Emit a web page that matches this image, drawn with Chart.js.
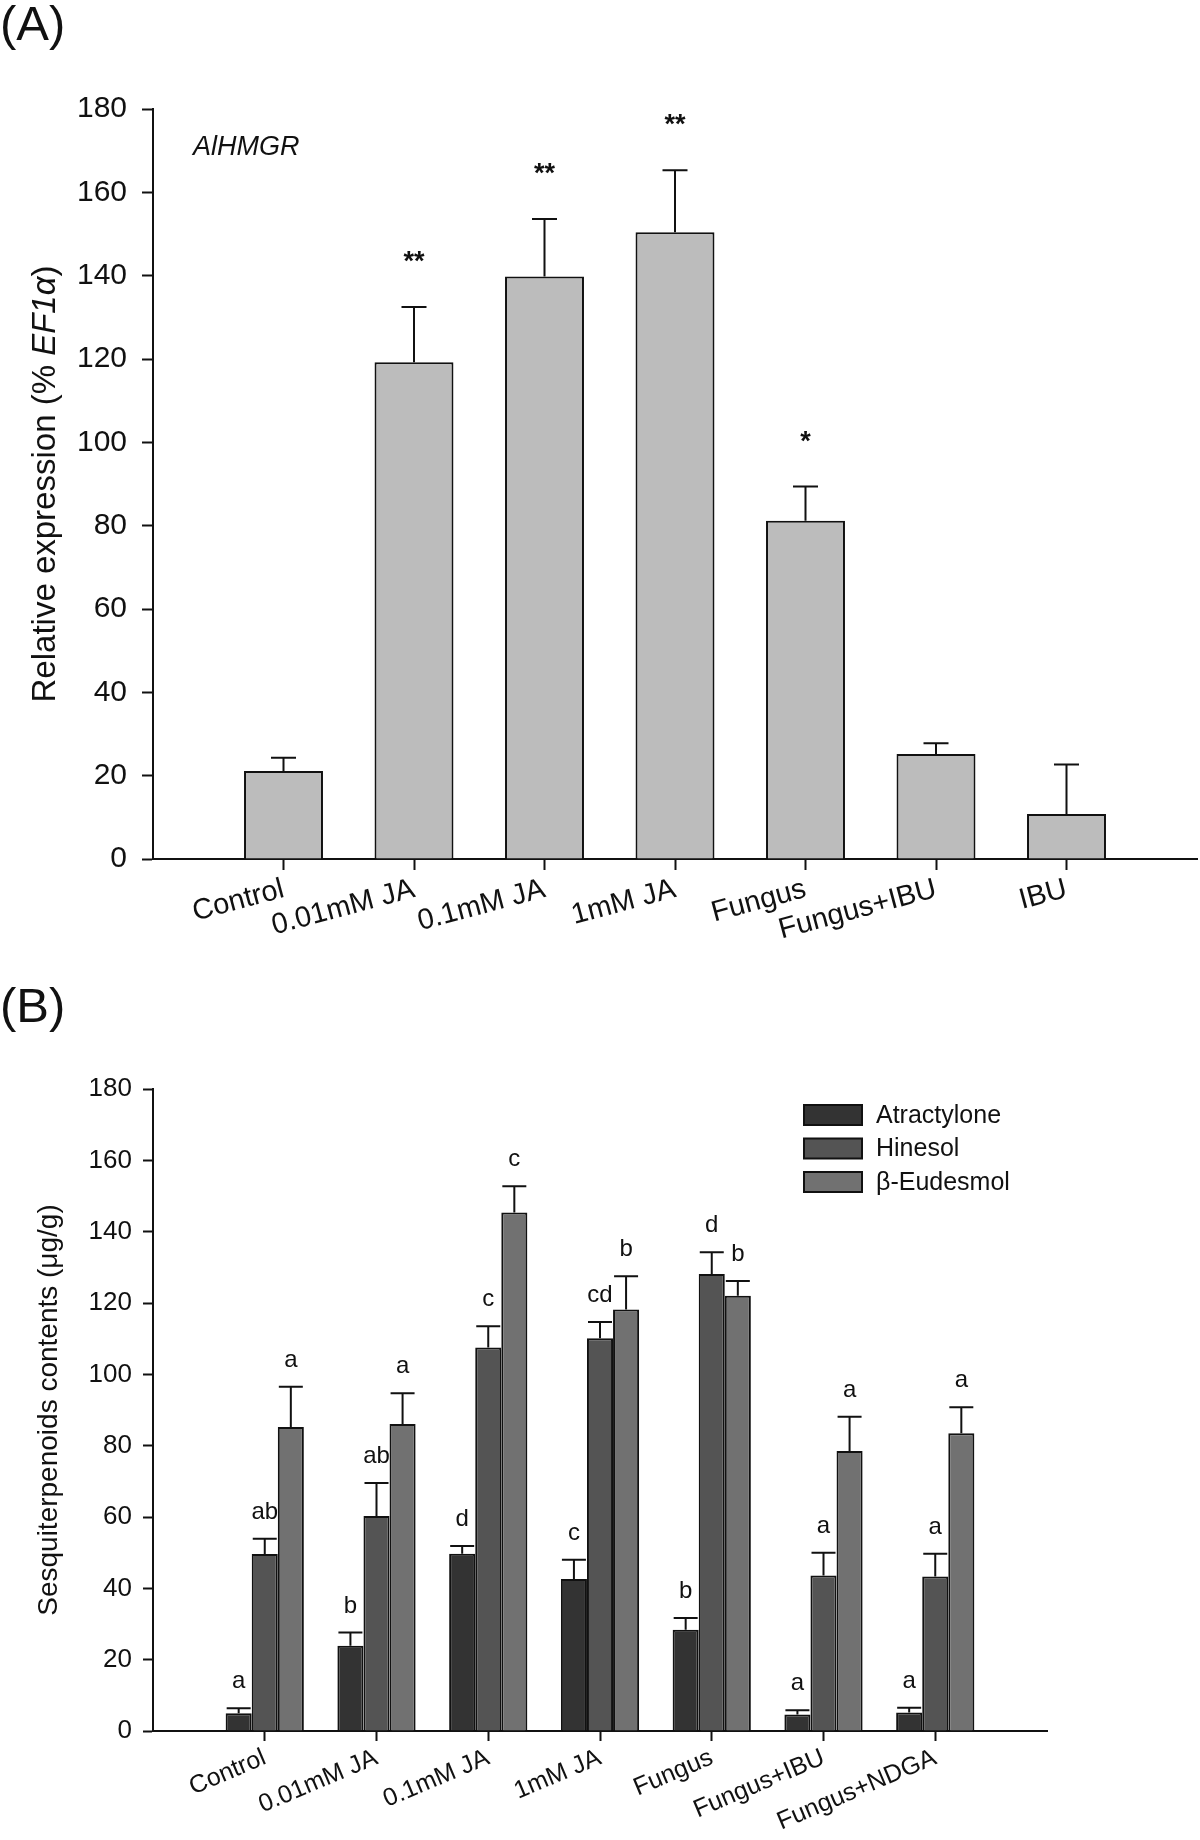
<!DOCTYPE html>
<html>
<head>
<meta charset="utf-8">
<script src="https://cdn.jsdelivr.net/npm/chart.js@4.4.1/dist/chart.umd.min.js"></script>
<style>
  html, body { margin: 0; padding: 0; background: #fff; }
  #wrap { position: relative; width: 1200px; height: 1840px; }
  .panel { position: absolute; left: 0; width: 1200px; }
  #panelA { top: 0; height: 960px; }
  #panelB { top: 960px; height: 880px; }
</style>
</head>
<body>
<div id="wrap">
  <div class="panel" id="panelA"><canvas id="chartA"></canvas></div>
  <div class="panel" id="panelB"><canvas id="chartB"></canvas></div>
</div>
<script>
// ── Panel A: AlHMGR relative expression ─────────────────────────────────
const catsA    = ["Control", "0.01mM JA", "0.1mM JA", "1mM JA", "Fungus", "Fungus+IBU", "IBU"];
const hmgrMean = [21.1, 119.2, 139.8, 150.4, 81.2, 25.2, 10.8];
const hmgrErr  = [3.2, 13.3, 13.8, 14.9, 8.2, 2.6, 11.9];
const hmgrSig  = ["", "**", "**", "**", "*", "", ""];

// ── Panel B: sesquiterpenoid contents ───────────────────────────────────
const catsB   = ["Control", "0.01mM JA", "0.1mM JA", "1mM JA", "Fungus", "Fungus+IBU", "Fungus+NDGA"];
const seriesB = ["Atractylone", "Hinesol", "\u03B2-Eudesmol"];
const atrMean = [5.0, 23.9, 49.7, 42.6, 28.4, 4.6, 5.2];
const atrErr  = [1.4, 3.7, 2.2, 5.4, 3.3, 1.2, 1.3];
const atrSig  = ["a", "b", "d", "c", "b", "a", "a"];
const hinMean = [49.6, 60.3, 107.5, 110.1, 128.1, 43.6, 43.3];
const hinErr  = [4.3, 9.2, 6.0, 4.6, 6.1, 6.4, 6.4];
const hinSig  = ["ab", "ab", "c", "cd", "d", "a", "a"];
const eudMean = [85.2, 86.1, 145.4, 118.2, 122.0, 78.5, 83.5];
const eudErr  = [11.3, 8.6, 7.3, 9.3, 4.2, 9.6, 7.3];
const eudSig  = ["a", "a", "c", "b", "b", "a", "a"];

const yTicks = [0, 20, 40, 60, 80, 100, 120, 140, 160, 180];

const FONT = '"Liberation Sans", Arial, Helvetica, sans-serif';
const INK  = "#111";
Chart.defaults.font.family = FONT;
Chart.defaults.color = INK;
Chart.defaults.animation = false;

// bars sit at x = 1..n on a 0..n+1 linear axis (empty slot each side)
const toPoints = vals => vals.map((v, i) => ({ x: i + 1, y: v }));

/** Upper error bar + significance mark above each bar. */
const errorBars = {
  id: "errorBars",
  afterDatasetsDraw(chart, args, opts) {
    const { ctx } = chart;
    const yScale = chart.scales.y;
    ctx.save();
    chart.data.datasets.forEach((ds, di) => {
      const meta = chart.getDatasetMeta(di);
      meta.data.forEach((bar, i) => {
        const top = yScale.getPixelForValue(ds.data[i].y + ds.errors[i]);
        ctx.strokeStyle = INK;
        ctx.lineWidth = opts.lineWidth;
        ctx.beginPath();
        ctx.moveTo(bar.x, bar.y);
        ctx.lineTo(bar.x, top);
        ctx.moveTo(bar.x - opts.cap / 2, top);
        ctx.lineTo(bar.x + opts.cap / 2, top);
        ctx.stroke();
        const mark = ds.marks[i];
        if (mark) {
          ctx.fillStyle = INK;
          ctx.font = `${opts.bold ? "bold " : ""}${opts.fontSize}px ${FONT}`;
          ctx.textAlign = "center";
          ctx.textBaseline = "alphabetic";
          ctx.fillText(mark, bar.x, top - opts.gap);
        }
      });
    });
    ctx.restore();
  },
};

/** Panel letter, rotated y title (mixed italic) and free texts. */
const decorations = {
  id: "decorations",
  afterDraw(chart, args, opts) {
    const { ctx } = chart;
    ctx.save();
    ctx.fillStyle = INK;
    ctx.textAlign = "left";
    ctx.textBaseline = "alphabetic";
    ctx.font = `${opts.panelSize}px ${FONT}`;
    ctx.fillText(opts.panel, 0, opts.panelY);

    (opts.notes || []).forEach(n => {
      ctx.font = `${n.italic ? "italic " : ""}${n.size}px ${FONT}`;
      ctx.fillText(n.text, n.x, n.y);
    });

    // rotated axis title
    const t = opts.yTitle;
    const area = chart.chartArea;
    ctx.translate(t.x, (area.top + area.bottom) / 2);
    ctx.rotate(-Math.PI / 2);
    let total = 0;
    t.parts.forEach(p => {
      ctx.font = `${p.italic ? "italic " : ""}${t.size}px ${FONT}`;
      p.w = ctx.measureText(p.text).width;
      total += p.w;
    });
    let x = -total / 2;
    ctx.textBaseline = "middle";
    t.parts.forEach(p => {
      ctx.font = `${p.italic ? "italic " : ""}${t.size}px ${FONT}`;
      ctx.fillText(p.text, x, 0);
      x += p.w;
    });
    ctx.restore();
  },
};

/** Boxed legend drawn inside the plot area of panel B. */
const boxLegend = {
  id: "boxLegend",
  afterDraw(chart, args, opts) {
    if (!opts.show) return;
    const { ctx } = chart;
    ctx.save();
    chart.data.datasets.forEach((ds, i) => {
      const cy = opts.y + i * opts.pitch;
      ctx.fillStyle = ds.backgroundColor;
      ctx.fillRect(opts.x, cy - opts.h / 2, opts.w, opts.h);
      ctx.strokeStyle = INK;
      ctx.lineWidth = 2;
      ctx.strokeRect(opts.x, cy - opts.h / 2, opts.w, opts.h);
      ctx.fillStyle = INK;
      ctx.font = `${opts.fontSize}px ${FONT}`;
      ctx.textAlign = "left";
      ctx.textBaseline = "middle";
      ctx.fillText(ds.label, opts.x + opts.w + 14, cy + 1);
    });
    ctx.restore();
  },
};

function axisOptions(cats, o) {
  return {
    x: {
      type: "linear",
      min: 0,
      max: cats.length + 1,
      offset: false,
      afterFit: s => { s.height = o.xHeight; },
      afterBuildTicks: s => { s.ticks = cats.map((c, i) => ({ value: i + 1 })); },
      grid: { offset: false, drawOnChartArea: false, tickLength: o.tickLen, tickWidth: 2, tickColor: INK },
      border: { color: INK, width: 2 },
      ticks: {
        autoSkip: false,
        minRotation: o.rotation,
        maxRotation: o.rotation,
        padding: 2,
        font: { size: o.xFont },
        callback: v => cats[v - 1],
      },
    },
    y: {
      min: 0,
      max: 180,
      afterFit: s => { s.width = 153; },
      afterBuildTicks: s => { s.ticks = yTicks.map(v => ({ value: v })); },
      grid: { drawOnChartArea: false, tickLength: o.tickLen, tickWidth: 2, tickColor: INK },
      border: { color: INK, width: 2 },
      ticks: { padding: o.yPad, font: { size: o.yFont } },
    },
  };
}

// ── Chart A ─────────────────────────────────────────────────────────────
new Chart(document.getElementById("chartA"), {
  type: "bar",
  data: {
    datasets: [{
      label: "AlHMGR",
      data: toPoints(hmgrMean),
      errors: hmgrErr,
      marks: hmgrSig,
      backgroundColor: "#bcbcbc",
      borderColor: INK,
      borderWidth: 2,
      categoryPercentage: 1,
      barPercentage: 0.605,
    }],
  },
  options: {
    responsive: true,
    maintainAspectRatio: false,
    layout: { padding: { top: 109, right: 3, bottom: 0, left: 0 } },
    scales: axisOptions(catsA, { xHeight: 101, tickLen: 11, rotation: 15, xFont: 29, yFont: 30, yPad: 15 }),
    plugins: {
      legend: { display: false },
      tooltip: { enabled: false },
      errorBars: { cap: 25, lineWidth: 2, gap: 37, fontSize: 27, bold: true },
      decorations: {
        panel: "(A)", panelSize: 49, panelY: 40,
        notes: [{ text: "AlHMGR", italic: true, size: 27, x: 193, y: 155 }],
        yTitle: {
          x: 46, size: 33,
          parts: [{ text: "Relative expression (% " }, { text: "EF1\u03B1", italic: true }, { text: ")" }],
        },
      },
      boxLegend: { show: false },
    },
  },
  plugins: [errorBars, decorations, boxLegend],
});

// ── Chart B ─────────────────────────────────────────────────────────────
const colorsB = ["#333333", "#545454", "#717171"];
const meansB  = [atrMean, hinMean, eudMean];
const errsB   = [atrErr, hinErr, eudErr];
const sigsB   = [atrSig, hinSig, eudSig];

new Chart(document.getElementById("chartB"), {
  type: "bar",
  data: {
    datasets: seriesB.map((name, k) => ({
      label: name,
      data: toPoints(meansB[k]),
      errors: errsB[k],
      marks: sigsB[k],
      backgroundColor: colorsB[k],
      borderColor: INK,
      borderWidth: 2,
      categoryPercentage: 0.7,
      barPercentage: 1,
    })),
  },
  options: {
    responsive: true,
    maintainAspectRatio: false,
    layout: { padding: { top: 129, right: 153, bottom: 0, left: 0 } },
    scales: axisOptions(catsB, { xHeight: 109, tickLen: 10, rotation: 23, xFont: 25, yFont: 26, yPad: 11 }),
    plugins: {
      legend: { display: false },
      tooltip: { enabled: false },
      errorBars: { cap: 24, lineWidth: 2, gap: 20, fontSize: 24, bold: false },
      decorations: {
        panel: "(B)", panelSize: 49, panelY: 62,
        notes: [],
        yTitle: { x: 49, size: 28, parts: [{ text: "Sesquiterpenoids contents (\u03BCg/g)" }] },
      },
      boxLegend: { show: true, x: 804, y: 155, pitch: 33.5, w: 58, h: 20, fontSize: 25 },
    },
  },
  plugins: [errorBars, decorations, boxLegend],
});
</script>
</body>
</html>
